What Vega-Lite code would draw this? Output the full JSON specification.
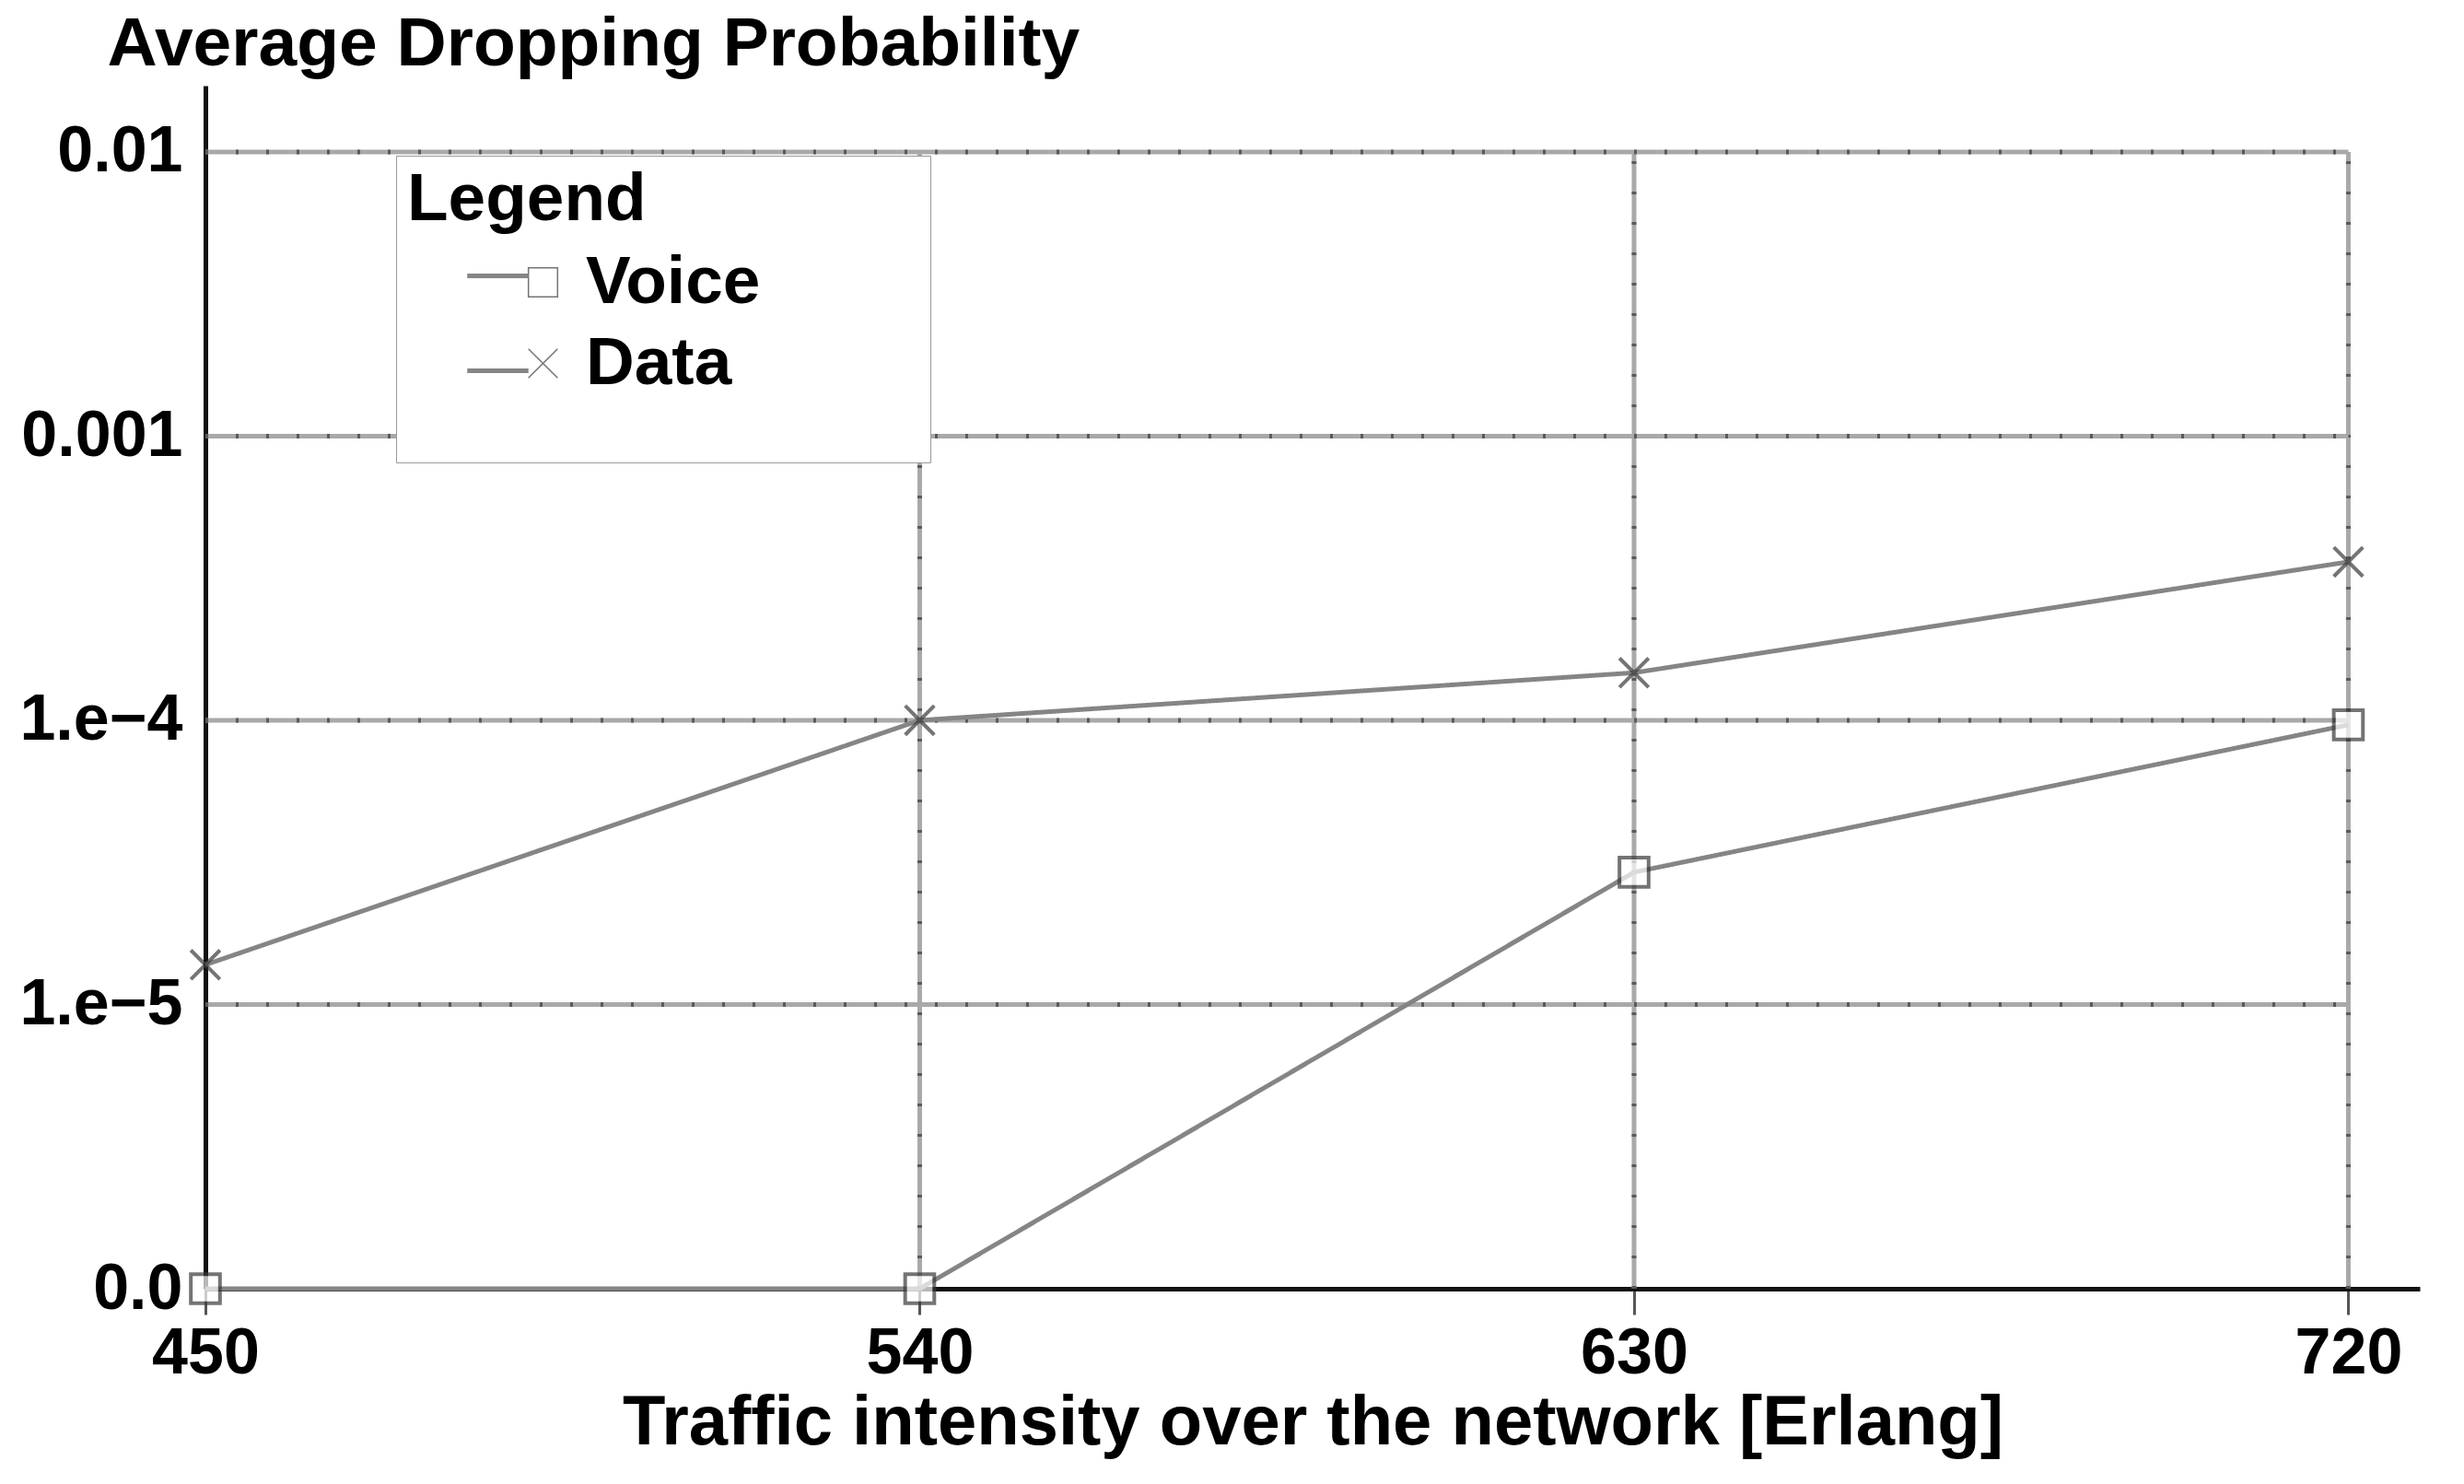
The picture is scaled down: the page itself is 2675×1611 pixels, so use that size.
{
  "$schema": "https://vega.github.io/schema/vega-lite/v6.json",
  "width": 2404,
  "height": 1306,
  "autosize": {"type": "none"},
  "padding": {"left": 223, "top": 93, "right": 48, "bottom": 212},
  "background": "white",
  "config": {
    "view": {"stroke": null},
    "font": "Liberation Sans",
    "axisX": {
      "grid": false,
      "tickSize": 28,
      "tickWidth": 3,
      "tickColor": "#555555",
      "domainColor": "#111111",
      "domainWidth": 5,
      "labelFont": "Liberation Sans",
      "labelFontSize": 70,
      "labelFontWeight": "bold",
      "labelColor": "black",
      "labelPadding": 8,
      "labelFlush": false,
      "labelOverlap": false,
      "labelBound": false,
      "titleFont": "Liberation Sans",
      "titleFontSize": 76,
      "titleFontWeight": "bold",
      "titleColor": "black",
      "titleLimit": 0,
      "titleY": 168,
      "titleBaseline": "alphabetic"
    },
    "axisY": {
      "grid": false,
      "ticks": false,
      "domainColor": "#111111",
      "domainWidth": 5,
      "labelFont": "Liberation Sans",
      "labelFontSize": 70,
      "labelFontWeight": "bold",
      "labelColor": "black",
      "labelPadding": 25,
      "labelLimit": 0,
      "labelFlush": false,
      "labelOverlap": false,
      "labelBound": false,
      "titleFont": "Liberation Sans",
      "titleFontSize": 75,
      "titleFontWeight": "bold",
      "titleColor": "black",
      "titleLimit": 0,
      "titleAngle": 0,
      "titleAlign": "left",
      "titleBaseline": "alphabetic",
      "titleX": -107,
      "titleY": -23
    }
  },
  "data": {
    "values": [
      {"traffic": 450, "prob": 0.000001, "service": "Voice"},
      {"traffic": 540, "prob": 0.000001, "service": "Voice"},
      {"traffic": 630, "prob": 0.0000292, "service": "Voice"},
      {"traffic": 720, "prob": 0.0000964, "service": "Voice"},
      {"traffic": 450, "prob": 0.0000138, "service": "Data"},
      {"traffic": 540, "prob": 0.0001, "service": "Data"},
      {"traffic": 630, "prob": 0.000147, "service": "Data"},
      {"traffic": 720, "prob": 0.000361, "service": "Data"}
    ]
  },
  "layer": [
    {
      "data": {"values": [{"traffic": 540}, {"traffic": 630}, {"traffic": 720}]},
      "mark": {"type": "rule", "color": "#a9a9a9", "strokeWidth": 5},
      "encoding": {
        "x": {"field": "traffic", "type": "quantitative", "scale": {"domain": [450, 729], "nice": false, "zero": false}},
        "y": {"datum": 0.000001, "type": "quantitative", "scale": {"type": "log", "domain": [0.000001, 0.0171], "nice": false}},
        "y2": {"datum": 0.01}
      }
    },
    {
      "data": {"values": [{"traffic": 540}, {"traffic": 630}, {"traffic": 720}]},
      "mark": {"type": "rule", "color": "#5a5a5a", "strokeWidth": 5, "strokeDash": [3, 30]},
      "encoding": {
        "x": {"field": "traffic", "type": "quantitative", "scale": {"domain": [450, 729], "nice": false, "zero": false}},
        "y": {"datum": 0.000001, "type": "quantitative", "scale": {"type": "log", "domain": [0.000001, 0.0171], "nice": false}},
        "y2": {"datum": 0.01}
      }
    },
    {
      "data": {"values": [{"prob": 0.00001}, {"prob": 0.0001}, {"prob": 0.001}, {"prob": 0.01}]},
      "mark": {"type": "rule", "color": "#a9a9a9", "strokeWidth": 5},
      "encoding": {
        "y": {"field": "prob", "type": "quantitative", "scale": {"type": "log", "domain": [0.000001, 0.0171], "nice": false}},
        "x": {"datum": 450, "type": "quantitative", "scale": {"domain": [450, 729], "nice": false, "zero": false}},
        "x2": {"datum": 720}
      }
    },
    {
      "data": {"values": [{"prob": 0.00001}, {"prob": 0.0001}, {"prob": 0.001}, {"prob": 0.01}]},
      "mark": {"type": "rule", "color": "#5a5a5a", "strokeWidth": 5, "strokeDash": [3, 30]},
      "encoding": {
        "y": {"field": "prob", "type": "quantitative", "scale": {"type": "log", "domain": [0.000001, 0.0171], "nice": false}},
        "x": {"datum": 450, "type": "quantitative", "scale": {"domain": [450, 729], "nice": false, "zero": false}},
        "x2": {"datum": 720}
      }
    },
    {
      "mark": {"type": "line", "color": "#858585", "strokeWidth": 5},
      "encoding": {
        "x": {
          "field": "traffic",
          "type": "quantitative",
          "scale": {"domain": [450, 729], "nice": false, "zero": false},
          "axis": {
            "values": [450, 540, 630, 720],
            "title": "Traffic intensity over the network [Erlang]"
          }
        },
        "y": {
          "field": "prob",
          "type": "quantitative",
          "scale": {"type": "log", "domain": [0.000001, 0.0171], "nice": false},
          "axis": {
            "values": [0.000001, 0.00001, 0.0001, 0.001, 0.01],
            "labelExpr": "datum.value < 2e-6 ? '0.0' : datum.value < 2e-5 ? '1.e−5' : datum.value < 2e-4 ? '1.e−4' : datum.value < 2e-3 ? '0.001' : '0.01'",
            "title": "Average Dropping Probability"
          }
        },
        "strokeDash": {
          "field": "service",
          "type": "nominal",
          "sort": ["Voice", "Data"],
          "scale": {"range": [[1, 0], [1, 0]]},
          "legend": {
            "orient": "none",
            "legendX": 207,
            "legendY": 158,
            "zindex": 2,
            "title": null,
            "labelExpr": "''",
            "labelFontSize": 73,
            "symbolType": "M-5.2,0L-1,0M-1,-2.6L-1,-2.6M-1,2.6L-1,2.6",
            "symbolSize": 1000,
            "symbolStrokeWidth": 5,
            "symbolOffset": 111,
            "rowPadding": 0,
            "padding": 12
          }
        },
        "detail": {"field": "service"}
      }
    },
    {
      "mark": {"type": "point", "filled": true, "fill": "white", "stroke": "#3a3a3a", "strokeWidth": 4, "size": 1000},
      "encoding": {
        "x": {"field": "traffic", "type": "quantitative", "scale": {"domain": [450, 729], "nice": false, "zero": false}},
        "y": {"field": "prob", "type": "quantitative", "scale": {"type": "log", "domain": [0.000001, 0.0171], "nice": false}},
        "shape": {
          "field": "service",
          "type": "nominal",
          "scale": {"domain": ["Voice", "Data"], "range": ["square", "M-1,-1L1,1M-1,1L1,-1M25.6,5.8L25.6,5.8"]},
          "legend": {
            "orient": "none",
            "legendX": 207,
            "legendY": 76,
            "zindex": 1,
            "title": "Legend",
            "titleFont": "Liberation Sans",
            "titleFontSize": 73,
            "titleFontWeight": "bold",
            "titleColor": "black",
            "titleLimit": 0,
            "titlePadding": 16,
            "labelFont": "Liberation Sans",
            "labelFontSize": 73,
            "labelFontWeight": "bold",
            "labelColor": "black",
            "labelLimit": 0,
            "symbolSize": 1000,
            "symbolOffset": 111,
            "labelOffset": 10,
            "rowPadding": 14,
            "padding": 12,
            "strokeColor": "#9a9a9a",
            "fillColor": "white"
          }
        }
      }
    }
  ]
}
